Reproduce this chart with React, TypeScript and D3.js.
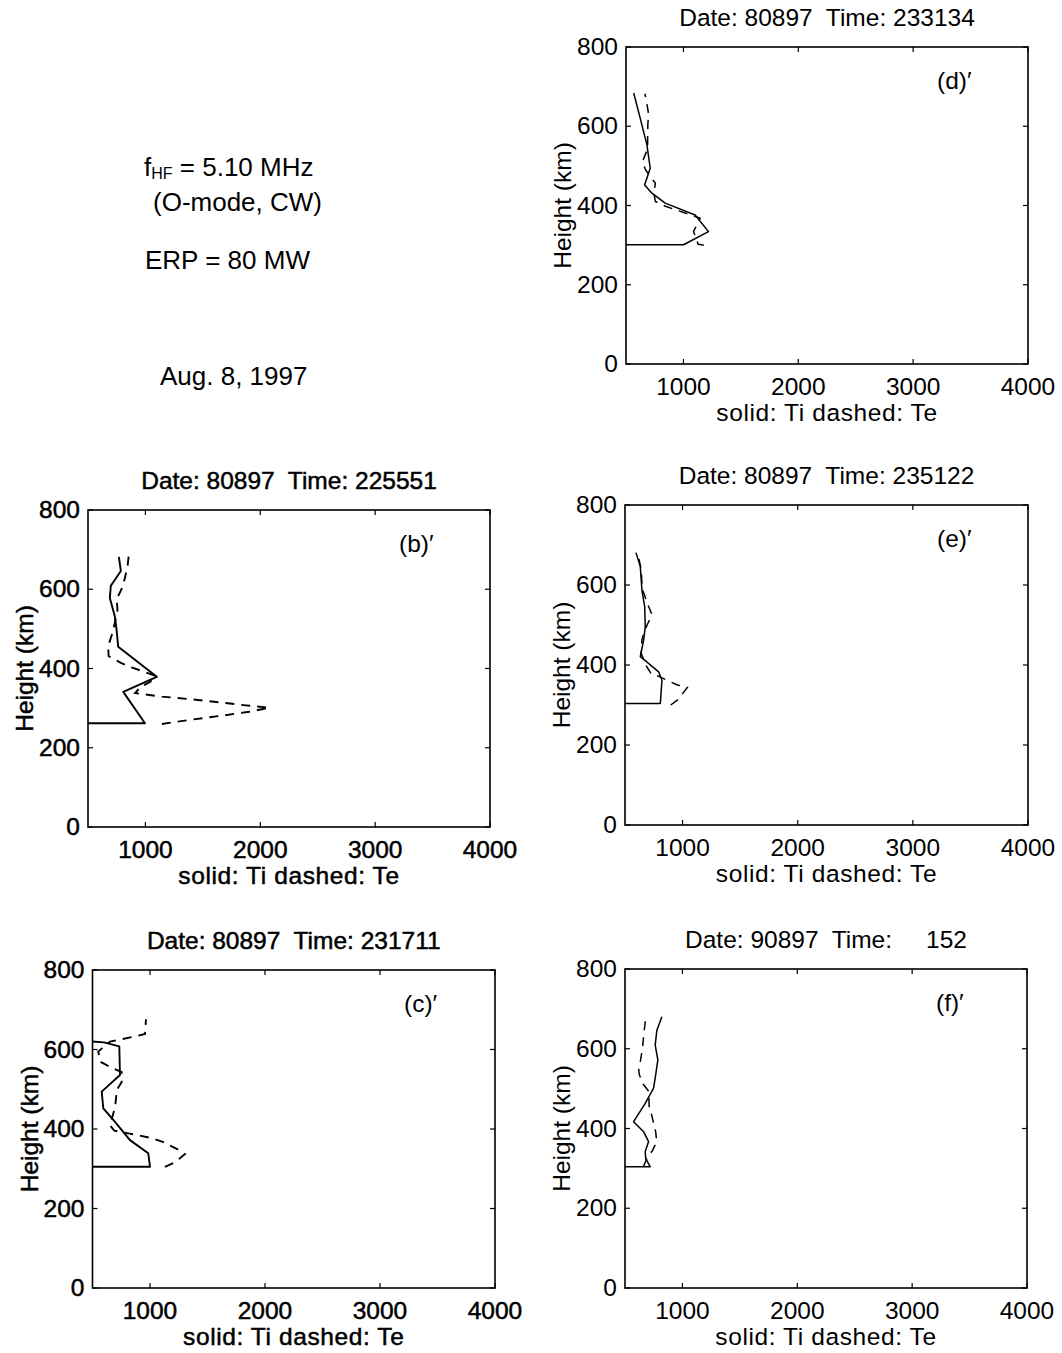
import React from 'react';
import * as d3 from 'd3';

type P = { t: number; h: number };

const xTicks = [1000, 2000, 3000, 4000];
const yTicks = [0, 200, 400, 600, 800];
const xDomain: [number, number] = [500, 4000];
const yDomain: [number, number] = [0, 800];

const xLabel = 'solid: Ti dashed: Te';
const yLabel = 'Height (km)';

// Panel (b)'
const tiB: P[] = [
  { t: 400, h: 262 }, { t: 996, h: 262 }, { t: 807, h: 341 }, { t: 1099, h: 379 },
  { t: 763, h: 455 }, { t: 749, h: 497 }, { t: 734, h: 531 }, { t: 690, h: 578 },
  { t: 699, h: 609 }, { t: 786, h: 646 }, { t: 769, h: 682 },
];
const teB: P[] = [
  { t: 1143, h: 260 }, { t: 1377, h: 270 }, { t: 1667, h: 281 }, { t: 1904, h: 291 },
  { t: 2079, h: 301 }, { t: 1873, h: 307 }, { t: 1667, h: 314 }, { t: 1377, h: 323 },
  { t: 1143, h: 329 }, { t: 910, h: 338 }, { t: 960, h: 354 }, { t: 1040, h: 366 },
  { t: 1090, h: 381 }, { t: 880, h: 403 }, { t: 786, h: 414 }, { t: 680, h: 431 },
  { t: 675, h: 456 }, { t: 710, h: 487 }, { t: 734, h: 516 }, { t: 757, h: 547 },
  { t: 749, h: 575 }, { t: 792, h: 600 }, { t: 821, h: 628 }, { t: 845, h: 660 },
  { t: 857, h: 690 },
];

// Panel (c)'
const tiC: P[] = [
  { t: 400, h: 305 }, { t: 1000, h: 305 }, { t: 985, h: 339 }, { t: 826, h: 372 },
  { t: 681, h: 423 }, { t: 594, h: 452 }, { t: 580, h: 494 }, { t: 739, h: 536 },
  { t: 733, h: 608 }, { t: 600, h: 618 }, { t: 400, h: 622 },
];
const teC: P[] = [
  { t: 1130, h: 305 }, { t: 1217, h: 316 }, { t: 1304, h: 337 }, { t: 1232, h: 350 },
  { t: 1116, h: 367 }, { t: 1015, h: 377 }, { t: 885, h: 385 }, { t: 810, h: 389 },
  { t: 690, h: 396 }, { t: 650, h: 410 }, { t: 675, h: 433 }, { t: 696, h: 455 },
  { t: 705, h: 478 }, { t: 710, h: 498 }, { t: 754, h: 518 }, { t: 754, h: 543 },
  { t: 675, h: 553 }, { t: 570, h: 569 }, { t: 550, h: 595 }, { t: 652, h: 620 },
  { t: 739, h: 625 }, { t: 855, h: 632 }, { t: 957, h: 639 }, { t: 965, h: 676 },
];

// Panel (d)'
const tiD: P[] = [
  { t: 400, h: 301 }, { t: 1001, h: 301 }, { t: 1218, h: 334 }, { t: 1102, h: 376 },
  { t: 841, h: 406 }, { t: 726, h: 431 }, { t: 662, h: 452 }, { t: 711, h: 494 },
  { t: 682, h: 553 }, { t: 624, h: 620 }, { t: 567, h: 684 },
];
const teD: P[] = [
  { t: 1180, h: 300 }, { t: 1128, h: 302 }, { t: 1110, h: 318 }, { t: 1088, h: 334 },
  { t: 1145, h: 368 }, { t: 843, h: 398 }, { t: 756, h: 410 }, { t: 742, h: 431 },
  { t: 756, h: 456 }, { t: 672, h: 489 }, { t: 643, h: 510 }, { t: 690, h: 545 },
  { t: 688, h: 560 }, { t: 690, h: 605 }, { t: 697, h: 630 }, { t: 680, h: 660 },
  { t: 665, h: 682 },
];

// Panel (e)'
const tiE: P[] = [
  { t: 400, h: 304 }, { t: 807, h: 304 }, { t: 821, h: 362 }, { t: 792, h: 383 },
  { t: 671, h: 412 }, { t: 633, h: 421 }, { t: 662, h: 462 }, { t: 676, h: 496 },
  { t: 671, h: 546 }, { t: 647, h: 587 }, { t: 633, h: 646 }, { t: 595, h: 681 },
];
const teE: P[] = [
  { t: 897, h: 300 }, { t: 963, h: 314 }, { t: 1041, h: 344 }, { t: 955, h: 350 },
  { t: 775, h: 374 }, { t: 732, h: 376 }, { t: 680, h: 400 }, { t: 640, h: 430 },
  { t: 647, h: 462 }, { t: 662, h: 480 }, { t: 700, h: 505 }, { t: 735, h: 525 },
  { t: 705, h: 546 }, { t: 650, h: 590 }, { t: 640, h: 640 }, { t: 610, h: 680 },
];

// Panel (f)'
const tiF: P[] = [
  { t: 400, h: 304 }, { t: 720, h: 304 }, { t: 680, h: 325 }, { t: 676, h: 342 },
  { t: 705, h: 367 }, { t: 662, h: 392 }, { t: 575, h: 417 }, { t: 676, h: 463 },
  { t: 749, h: 501 }, { t: 770, h: 540 }, { t: 786, h: 572 }, { t: 763, h: 609 },
  { t: 777, h: 646 }, { t: 821, h: 680 },
];
const teF: P[] = [
  { t: 660, h: 304 }, { t: 690, h: 325 }, { t: 740, h: 345 }, { t: 776, h: 367 },
  { t: 767, h: 392 }, { t: 750, h: 412 }, { t: 731, h: 435 }, { t: 711, h: 455 },
  { t: 705, h: 494 }, { t: 653, h: 513 }, { t: 625, h: 535 }, { t: 619, h: 546 },
  { t: 633, h: 567 }, { t: 653, h: 603 }, { t: 662, h: 632 }, { t: 676, h: 667 },
  { t: 676, h: 680 },
];

const titleB = 'Date: 80897  Time: 225551';
const titleC = 'Date: 80897  Time: 231711';
const titleD = 'Date: 80897  Time: 233134';
const titleE = 'Date: 80897  Time: 235122';
const titleF = 'Date: 90897  Time:     152';

const panels = [
  { key: 'b', x0: 88, x1: 490, y0: 510, y1: 827, title: titleB, tag: '(b)′', ti: tiB, te: teB, heavy: true },
  { key: 'c', x0: 92.5, x1: 495, y0: 970, y1: 1288, title: titleC, tag: '(c)′', ti: tiC, te: teC, heavy: true },
  { key: 'd', x0: 626, x1: 1028, y0: 47, y1: 364, title: titleD, tag: '(d)′', ti: tiD, te: teD, heavy: false },
  { key: 'e', x0: 625, x1: 1028, y0: 505, y1: 825, title: titleE, tag: '(e)′', ti: tiE, te: teE, heavy: false },
  { key: 'f', x0: 625, x1: 1027, y0: 969, y1: 1288, title: titleF, tag: '(f)′', ti: tiF, te: teF, heavy: false },
];

const FONT = '"Liberation Sans", Arial, Helvetica, sans-serif';
const FS = 24.5;

function Panel({ p }: { p: typeof panels[number] }) {
  const x = d3.scaleLinear().domain(xDomain).range([p.x0, p.x1]);
  const y = d3.scaleLinear().domain(yDomain).range([p.y1, p.y0]);
  const line = d3.line<P>().x(d => x(d.t)).y(d => y(d.h));
  const clipId = `clip-${p.key}`;
  const tl = 5;
  const txtStroke = p.heavy ? { stroke: '#000', strokeWidth: 0.5 } : {};
  const lw = p.heavy ? 1.9 : 1.5;
  const cx = (p.x0 + p.x1) / 2;
  const cy = (p.y0 + p.y1) / 2;
  return (
    <g>
      <defs>
        <clipPath id={clipId}>
          <rect x={p.x0} y={p.y0} width={p.x1 - p.x0} height={p.y1 - p.y0} />
        </clipPath>
      </defs>
      <g clipPath={`url(#${clipId})`}>
        <path d={line(p.ti) || ''} fill="none" stroke="#000" strokeWidth={lw} strokeLinejoin="round" />
        <path d={line(p.te) || ''} fill="none" stroke="#000" strokeWidth={lw} strokeDasharray="9,7" />
      </g>
      <rect x={p.x0} y={p.y0} width={p.x1 - p.x0} height={p.y1 - p.y0} fill="none" stroke="#000" strokeWidth={1.6} />
      {xTicks.map(t => (
        <g key={`xt${t}`}>
          <line x1={x(t)} x2={x(t)} y1={p.y1} y2={p.y1 - tl} stroke="#000" strokeWidth={1.2} />
          <line x1={x(t)} x2={x(t)} y1={p.y0} y2={p.y0 + tl} stroke="#000" strokeWidth={1.2} />
          <text x={x(t)} y={p.y1 + 31} textAnchor="middle" fontSize={FS} fontFamily={FONT} {...txtStroke}>{t}</text>
        </g>
      ))}
      {yTicks.map(t => (
        <g key={`yt${t}`}>
          <line x1={p.x0} x2={p.x0 + tl} y1={y(t)} y2={y(t)} stroke="#000" strokeWidth={1.2} />
          <line x1={p.x1} x2={p.x1 - tl} y1={y(t)} y2={y(t)} stroke="#000" strokeWidth={1.2} />
          <text x={p.x0 - 8} y={y(t) + 8} textAnchor="end" fontSize={FS} fontFamily={FONT} {...txtStroke}>{t}</text>
        </g>
      ))}
      <text x={cx} y={p.y0 - 21} textAnchor="middle" fontSize={FS} fontFamily={FONT} style={{ whiteSpace: 'pre' }} {...txtStroke}>{p.title}</text>
      <text x={cx} y={p.y1 + 57} textAnchor="middle" fontSize={FS} letterSpacing={0.6} fontFamily={FONT} {...txtStroke}>{xLabel}</text>
      <text transform={`translate(${p.x0 - 55},${cy}) rotate(-90)`} textAnchor="middle" fontSize={FS} fontFamily={FONT} {...txtStroke}>{yLabel}</text>
      <text x={p.x1 - 91} y={p.y0 + 42} fontSize={FS} fontFamily={FONT}>{p.tag}</text>
    </g>
  );
}

export default function App() {
  return (
    <svg width={1062} height={1353} style={{ position: 'absolute', left: 0, top: 0, background: '#fff' }}>
      <rect x={0} y={0} width={1062} height={1353} fill="#fff" />
      <g fontFamily={FONT} fontSize={26}>
        <text x={144} y={176}>f<tspan fontSize={16} dy={3}>HF</tspan><tspan dy={-3}> = 5.10 MHz</tspan></text>
        <text x={153} y={211}>(O-mode, CW)</text>
        <text x={145} y={269}>ERP = 80 MW</text>
        <text x={160} y={385}>Aug. 8, 1997</text>
      </g>
      {panels.map(p => <Panel key={p.key} p={p} />)}
    </svg>
  );
}
